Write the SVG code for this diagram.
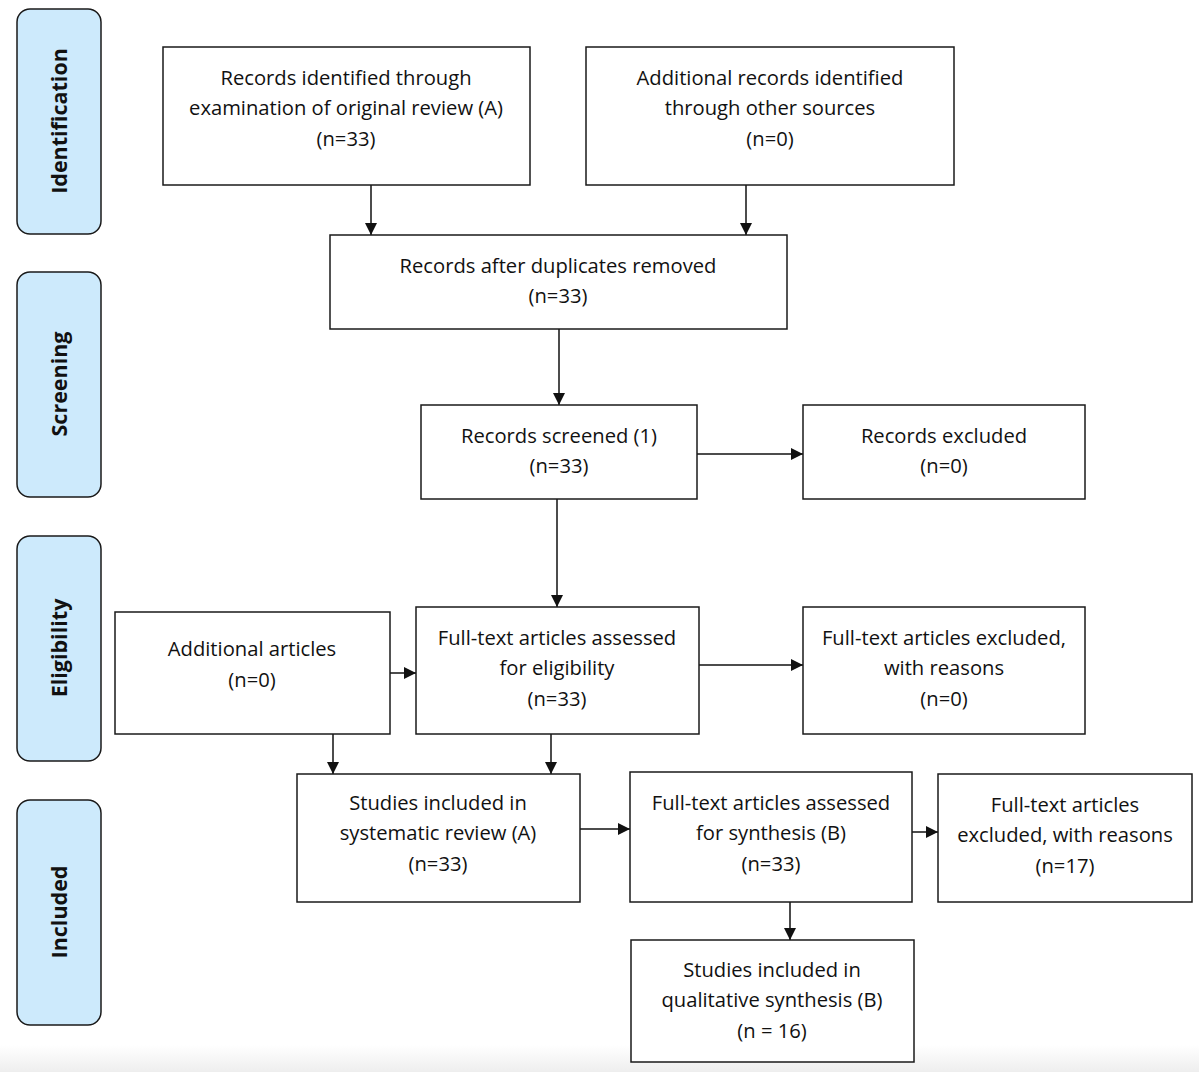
<svg xmlns="http://www.w3.org/2000/svg" width="1199" height="1072" viewBox="0 0 1199 1072">
<defs>
<style>
.box{fill:#fff;stroke:#1a1a1a;stroke-width:1.5}
.stage{fill:#cdeafc;stroke:#1a1a1a;stroke-width:1.5}
.t{font-family:"Open Sans","Noto Sans",sans-serif;font-size:20.2px;fill:#111;text-anchor:middle}
.s{font-family:"Open Sans","Noto Sans",sans-serif;font-size:21.5px;font-weight:bold;fill:#111;text-anchor:middle}
.c{stroke:#111;stroke-width:1.5;fill:none;marker-end:url(#ah)}
</style>
<marker id="ah" viewBox="0 0 10 10" refX="10" refY="5" markerWidth="12" markerHeight="12" markerUnits="userSpaceOnUse" orient="auto">
<path d="M0,0 L10,5 L0,10 z" fill="#111"/>
</marker>
<linearGradient id="bg" x1="0" y1="0" x2="0" y2="1">
<stop offset="0" stop-color="#ffffff"/>
<stop offset="1" stop-color="#eeeeee"/>
</linearGradient>
</defs>
<rect width="1199" height="1072" fill="#fff"/>
<rect x="0" y="1045" width="1199" height="27" fill="url(#bg)"/>

<g id="stage-identification"><rect class="stage" x="17" y="9" width="84" height="225" rx="13"/><text class="s" transform="translate(67,121) rotate(-90)">Identification</text></g>
<g id="stage-screening"><rect class="stage" x="17" y="272" width="84" height="225" rx="13"/><text class="s" transform="translate(67,384) rotate(-90)">Screening</text></g>
<g id="stage-eligibility"><rect class="stage" x="17" y="536" width="84" height="225" rx="13"/><text class="s" transform="translate(67,648) rotate(-90)">Eligibility</text></g>
<g id="stage-included"><rect class="stage" x="17" y="800" width="84" height="225" rx="13"/><text class="s" transform="translate(67,912) rotate(-90)">Included</text></g>

<g id="connectors">
<line class="c" x1="371" y1="185" x2="371" y2="235"/>
<line class="c" x1="746" y1="185" x2="746" y2="235"/>
<line class="c" x1="559" y1="329" x2="559" y2="405"/>
<line class="c" x1="697" y1="454" x2="803" y2="454"/>
<line class="c" x1="557" y1="499" x2="557" y2="607"/>
<line class="c" x1="390" y1="673" x2="416" y2="673"/>
<line class="c" x1="699" y1="665" x2="803" y2="665"/>
<line class="c" x1="333" y1="734" x2="333" y2="774"/>
<line class="c" x1="551" y1="734" x2="551" y2="774"/>
<line class="c" x1="580" y1="829" x2="630" y2="829"/>
<line class="c" x1="912" y1="832" x2="938" y2="832"/>
<line class="c" x1="790" y1="902" x2="790" y2="940"/>
</g>

<g id="n-records-identified"><rect class="box" x="163" y="47" width="367" height="138"/>
<text class="t" x="346" y="85">Records identified through</text>
<text class="t" x="346" y="115">examination of original review (A)</text>
<text class="t" x="346" y="146">(n=33)</text></g>

<g id="n-additional-records"><rect class="box" x="586" y="47" width="368" height="138"/>
<text class="t" x="770" y="85">Additional records identified</text>
<text class="t" x="770" y="115">through other sources</text>
<text class="t" x="770" y="146">(n=0)</text></g>

<g id="n-duplicates"><rect class="box" x="330" y="235" width="457" height="94"/>
<text class="t" x="558" y="273">Records after duplicates removed</text>
<text class="t" x="558" y="303">(n=33)</text></g>

<g id="n-screened"><rect class="box" x="421" y="405" width="276" height="94"/>
<text class="t" x="559" y="443">Records screened (1)</text>
<text class="t" x="559" y="473">(n=33)</text></g>

<g id="n-excluded"><rect class="box" x="803" y="405" width="282" height="94"/>
<text class="t" x="944" y="443">Records excluded</text>
<text class="t" x="944" y="473">(n=0)</text></g>

<g id="n-additional-articles"><rect class="box" x="115" y="612" width="275" height="122"/>
<text class="t" x="252" y="656">Additional articles</text>
<text class="t" x="252" y="687">(n=0)</text></g>

<g id="n-fulltext-eligibility"><rect class="box" x="416" y="607" width="283" height="127"/>
<text class="t" x="557" y="645">Full-text articles assessed</text>
<text class="t" x="557" y="675">for eligibility</text>
<text class="t" x="557" y="706">(n=33)</text></g>

<g id="n-fulltext-excluded"><rect class="box" x="803" y="607" width="282" height="127"/>
<text class="t" x="944" y="645">Full-text articles excluded,</text>
<text class="t" x="944" y="675">with reasons</text>
<text class="t" x="944" y="706">(n=0)</text></g>

<g id="n-studies-systematic"><rect class="box" x="297" y="774" width="283" height="128"/>
<text class="t" x="438" y="810">Studies included in</text>
<text class="t" x="438" y="840">systematic review (A)</text>
<text class="t" x="438" y="871">(n=33)</text></g>

<g id="n-fulltext-synthesis"><rect class="box" x="630" y="772" width="282" height="130"/>
<text class="t" x="771" y="810">Full-text articles assessed</text>
<text class="t" x="771" y="840">for synthesis (B)</text>
<text class="t" x="771" y="871">(n=33)</text></g>

<g id="n-fulltext-excluded-17"><rect class="box" x="938" y="774" width="254" height="128"/>
<text class="t" x="1065" y="812">Full-text articles</text>
<text class="t" x="1065" y="842">excluded, with reasons</text>
<text class="t" x="1065" y="873">(n=17)</text></g>

<g id="n-qualitative"><rect class="box" x="631" y="940" width="283" height="122"/>
<text class="t" x="772" y="977">Studies included in</text>
<text class="t" x="772" y="1007">qualitative synthesis (B)</text>
<text class="t" x="772" y="1038">(n = 16)</text></g>
</svg>
